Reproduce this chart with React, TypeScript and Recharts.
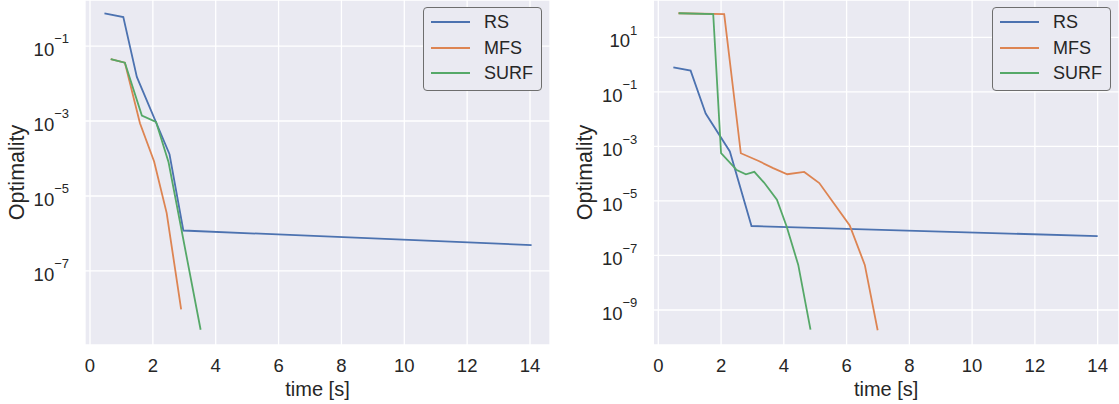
import React from "react"
import { LineChart, Line, XAxis, YAxis, CartesianGrid } from "recharts"

const SERIES = ["RS", "MFS", "SURF"]
const COLORS = ["#4c72b0", "#dd8452", "#55a868"]
const X_TICKS = [0, 2, 4, 6, 8, 10, 12, 14]

// left panel
const L_RS_T = [0.46, 1.06, 1.49, 2.53, 2.97, 14.05]
const L_RS_V = [0.74, 0.59, 1.5e-2, 1.3e-4, 1.2e-6, 4.9e-7]
const L_MFS_T = [0.66, 1.11, 1.59, 2.04, 2.44, 2.9]
const L_MFS_V = [4.5e-2, 3.6e-2, 8.7e-4, 8.3e-5, 3.5e-6, 9.5e-9]
const L_SURF_T = [0.66, 1.11, 1.65, 2.1, 2.5, 3.52]
const L_SURF_V = [4.5e-2, 3.6e-2, 1.4e-3, 9.5e-4, 7.9e-5, 2.7e-9]
const L_Y_TICKS = [1e-1, 1e-3, 1e-5, 1e-7]

// right panel
const R_RS_T = [0.48, 1.03, 1.51, 2.28, 2.97, 14.0]
const R_RS_V = [0.79, 0.6, 1.6e-2, 6.5e-4, 1.2e-6, 5.1e-7]
const R_MFS_T = [0.64, 2.1, 2.63, 3.2, 3.66, 4.11, 4.65, 5.13, 6.1, 6.58, 6.99]
const R_MFS_V = [76, 71, 5.6e-4, 2.9e-4, 1.6e-4, 9.5e-5, 1.15e-4, 4.5e-5, 1.26e-6, 4.5e-8, 1.8e-10]
const R_SURF_T = [0.65, 1.75, 2.0, 2.5, 2.79, 3.06, 3.37, 3.78, 4.09, 4.46, 4.85]
const R_SURF_V = [76, 71, 5.6e-4, 1.35e-4, 9.5e-5, 1.17e-4, 4.7e-5, 1.1e-5, 1.15e-6, 4.5e-8, 1.9e-10]
const R_Y_TICKS = [1e1, 1e-1, 1e-3, 1e-5, 1e-7, 1e-9]

const FONT = "'Liberation Sans', Arial, sans-serif"
const TEXT = "#262626"

const zip = (t: number[], v: number[]) => t.map((x, i) => ({ t: x, v: v[i] }))

function YTick({ x, y, payload }: any) {
  const e = Math.round(Math.log10(payload.value))
  const exp = e < 0 ? `\u2212${-e}` : `${e}`
  return (
    <text x={x - 16} y={y + 10} textAnchor="end" fontSize={18.5} fill={TEXT} fontFamily={FONT}>
      <tspan>10</tspan>
      <tspan dy={-12.7} fontSize={13}>{exp}</tspan>
    </text>
  )
}

function XTick({ x, y, payload }: any) {
  return (
    <text x={x} y={y + 26.7} textAnchor="middle" fontSize={18.5} fill={TEXT} fontFamily={FONT}>
      {payload.value}
    </text>
  )
}

function LegendBox({ left }: { left: number }) {
  return (
    <div
      style={{
        position: "absolute",
        left,
        top: 7,
        width: 117,
        height: 82,
        border: "1px solid #6e6e6e",
        borderRadius: 4,
        background: "#eaeaf2",
        fontFamily: FONT,
        fontSize: 18,
        color: TEXT,
      }}
    >
      {SERIES.map((s, i) => (
        <div key={s} style={{ position: "absolute", top: 3 + i * 25.7, left: 0, height: 22, width: 117 }}>
          <div
            style={{
              position: "absolute",
              left: 7,
              top: 10,
              width: 39,
              height: 2,
              background: COLORS[i],
            }}
          />
          <div style={{ position: "absolute", left: 60, top: 0, lineHeight: "22px" }}>{s}</div>
        </div>
      ))}
    </div>
  )
}

type PanelProps = {
  left: number
  width: number
  yWidth: number
  right: number
  domain: [number, number]
  xDomain: [number, number]
  yTicks: number[]
  lines: { t: number; v: number }[][]
}

function Panel({ left, width, yWidth, right, domain, xDomain, yTicks, lines }: PanelProps) {
  return (
    <div style={{ position: "absolute", left, top: 0 }}>
      <LineChart width={width} height={404} margin={{ top: 0, right, left: 0, bottom: 0 }}>
        <CartesianGrid fill="#eaeaf2" stroke="#ffffff" strokeWidth={1.3} />
        <XAxis
          dataKey="t"
          type="number"
          domain={xDomain}
          ticks={X_TICKS}
          allowDataOverflow
          height={59}
          axisLine={false}
          tickLine={false}
          tickSize={0}
          tickMargin={0}
          tick={<XTick />}
          interval={0}
          label={({ viewBox }: any) => (
            <text
              x={viewBox.x + viewBox.width / 2}
              y={viewBox.y + 51}
              textAnchor="middle"
              fontSize={20}
              fill={TEXT}
              fontFamily={FONT}
            >
              time [s]
            </text>
          )}
        />
        <YAxis
          scale="log"
          type="number"
          domain={domain}
          ticks={yTicks}
          allowDataOverflow
          width={yWidth}
          axisLine={false}
          tickLine={false}
          tickSize={0}
          tickMargin={0}
          tick={<YTick />}
          interval={0}
          label={({ viewBox }: any) => {
            const cx = viewBox.x + viewBox.width - 68
            const cy = viewBox.y + viewBox.height / 2
            return (
              <text
                x={cx}
                y={cy}
                transform={`rotate(-90 ${cx} ${cy})`}
                textAnchor="middle"
                dominantBaseline="central"
                fontSize={21.5}
                fill={TEXT}
                fontFamily={FONT}
              >
                Optimality
              </text>
            )
          }}
        />
        {lines.map((d, i) => (
          <Line
            key={SERIES[i]}
            data={d}
            dataKey="v"
            name={SERIES[i]}
            type="linear"
            stroke={COLORS[i]}
            strokeWidth={1.8}
            dot={false}
            isAnimationActive={false}
          />
        ))}
      </LineChart>
    </div>
  )
}

export default function App() {
  return (
    <div style={{ position: "absolute", left: 0, top: 0, width: 1119, height: 404, background: "#fff" }}>
      <Panel
        left={0}
        width={560}
        yWidth={85}
        right={10}
        domain={[1.06e-9, 1.69]}
        xDomain={[-0.159, 14.636]}
        yTicks={L_Y_TICKS}
        lines={[zip(L_RS_T, L_RS_V), zip(L_MFS_T, L_MFS_V), zip(L_SURF_T, L_SURF_V)]}
      />
      <Panel
        left={560}
        width={559}
        yWidth={93.3}
        right={0}
        domain={[5.2e-11, 233]}
        xDomain={[-0.159, 14.68]}
        yTicks={R_Y_TICKS}
        lines={[zip(R_RS_T, R_RS_V), zip(R_MFS_T, R_MFS_V), zip(R_SURF_T, R_SURF_V)]}
      />
      <LegendBox left={423} />
      <LegendBox left={992} />
    </div>
  )
}
